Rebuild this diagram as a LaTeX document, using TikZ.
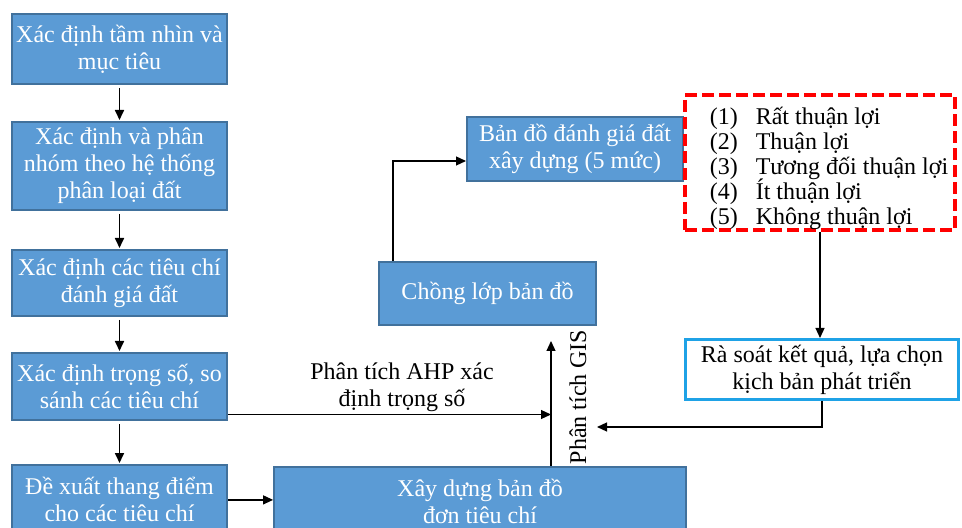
\documentclass[tikz,border=0pt]{standalone}
\usepackage{fontspec}
\setmainfont{Liberation Serif}
\usepackage{xcolor}
\usepackage{tikz}
\usetikzlibrary{arrows.meta, positioning}

\definecolor{boxblue}{HTML}{5B9BD5}
\definecolor{boxedge}{HTML}{41719C}
\definecolor{reviewedge}{HTML}{1FA2E6}

\begin{document}
\begin{tikzpicture}[
  x=0.5pt, y=-0.5pt,
  box/.style={draw=boxedge, line width=0.9pt, fill=boxblue, text=white, align=center,
              inner sep=1pt, minimum width=107.6pt, font=\fontsize{12}{13.5}\selectfont},
  lbl/.style={align=center, inner sep=1pt, font=\fontsize{12}{13.5}\selectfont},
  arr/.style={-{Triangle[length=5pt, width=4.5pt]}, line width=0.6pt},
  down/.style={arr, line width=0.85pt, shorten <=1.5pt, shorten >=0.5pt},
  node distance=18pt
]
  \clip (0,0) rectangle (962,528);

  \node[box, minimum height=35.1pt] (vis) at (119.5,49) {Xác định tầm nhìn và\\mục tiêu};
  \node[box, minimum height=44.1pt, below=of vis] (grp) {Xác định và phân\\nhóm theo hệ thống\\phân loại đất};
  \node[box, minimum height=33.1pt, below=19pt of grp] (crit) {Xác định các tiêu chí\\đánh giá đất};
  \node[box, minimum height=33.6pt, below=17.5pt of crit] (wgt) {Xác định trọng số, so\\sánh các tiêu chí};
  \node[box, minimum height=35pt, below=21.5pt of wgt] (score) {Đề xuất thang điểm\\cho các tiêu chí};

  \node[box, minimum width=206pt, minimum height=34pt] (single) at (480,501) {Xây dựng bản đồ\\đơn tiêu chí};
  \node[box, minimum width=108.6pt, minimum height=31.6pt] (overlay) at (487.5,293.5) {Chồng lớp bản đồ};
  \node[box, minimum width=108.1pt, minimum height=32.1pt] (map) at (575,149) {Bản đồ đánh giá đất\\xây dựng (5 mức)};
  \node[draw=red, line width=2pt, dash pattern=on 6pt off 2.5pt, minimum width=135pt,
        minimum height=67.5pt, inner sep=0pt, font=\fontsize{12}{12.5}\selectfont] (levels) at (820,162.5)
    {\raisebox{-6.5pt}[0pt][0pt]{\begin{tabular}{@{\hspace{9pt}}l@{\hspace{9pt}}l@{}}
      (1) & \smash{Rất thuận lợi}\\
      (2) & \smash{Thuận lợi}\\
      (3) & \smash{Tương đối thuận lợi}\\
      (4) & \smash{Ít thuận lợi}\\
      (5) & \smash{Không thuận lợi}
    \end{tabular}}};
  \node[draw=reviewedge, line width=1.3pt, fill=white, align=center, minimum width=136.7pt,
        minimum height=30.2pt, inner sep=1pt, font=\fontsize{12}{13.5}\selectfont] (review) at (822,369.5)
    {Rà soát kết quả, lựa chọn\\kịch bản phát triển};

  \node[lbl] (ahp) at (402,387) {Phân tích AHP xác\\định trọng số};
  \node[lbl, rotate=90] (gis) at (578,397) {Phân tích GIS};
  \coordinate (gistop) at (551,341);
  \coordinate (back) at (597,427);

  \draw[down] (vis) -- (grp);
  \draw[down] (grp) -- (crit);
  \draw[down] (crit) -- (wgt);
  \draw[down] (wgt) -- (score);
  \draw[arr] (score.east) -- (score.east -| single.west);
  \draw[arr] ([yshift=-14pt]wgt.east) -- ([yshift=-14pt]wgt.east -| gistop);
  \draw[arr] (single.north -| gistop) -- (gistop);
  \draw[arr] ([xshift=7.5pt]overlay.north west) |- ([yshift=-6pt]map.west);
  \draw[arr] (levels.south) -- (levels.south |- review.north);
  \draw[arr] (review.south) |- (back);
\end{tikzpicture}
\end{document}
